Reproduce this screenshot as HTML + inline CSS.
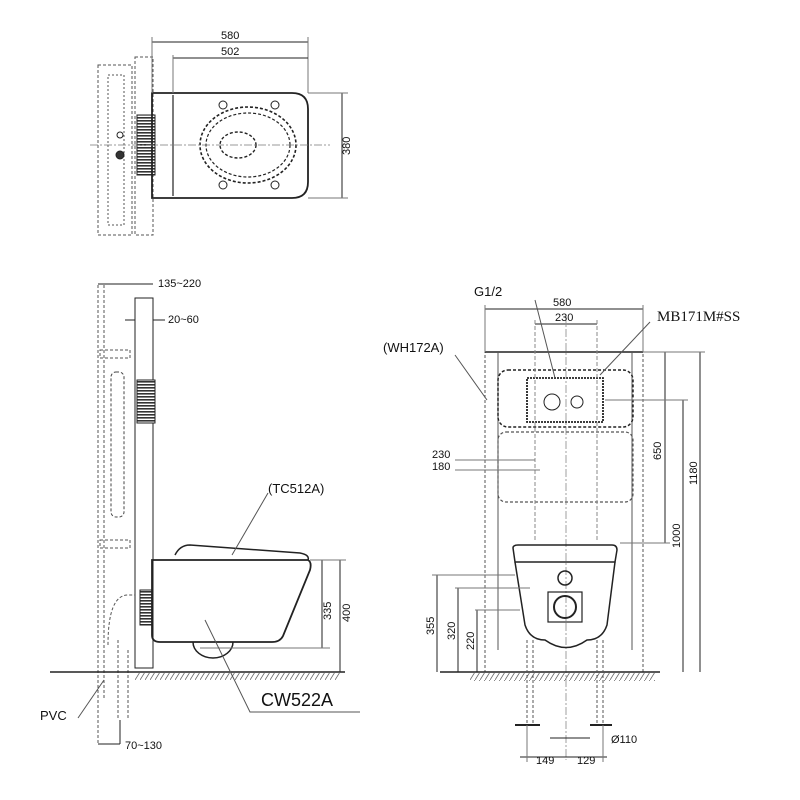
<!DOCTYPE html>
<html><head><meta charset="utf-8"><style>
html,body{margin:0;padding:0;background:#fff;}
svg{display:block;}
text{font-family:"Liberation Sans",sans-serif;fill:#111;}
</style></head><body>
<svg width="800" height="800" viewBox="0 0 800 800" xmlns="http://www.w3.org/2000/svg">
<defs>
<pattern id="h" width="5" height="8" patternUnits="userSpaceOnUse"><line x1="0" y1="8" x2="5" y2="0" stroke="#666" stroke-width="0.8"/></pattern>
<pattern id="g" width="4" height="3" patternUnits="userSpaceOnUse"><rect width="4" height="3" fill="#fff"/><rect width="4" height="1.6" fill="#333"/></pattern>
<pattern id="gv" width="3" height="4" patternUnits="userSpaceOnUse"><rect width="3" height="4" fill="#fff"/><rect width="1.6" height="4" fill="#333"/></pattern>
</defs>
<g fill="none" stroke="#222" stroke-width="1">
<!-- TOP VIEW -->
<rect x="98" y="65" width="34" height="170" stroke-dasharray="3,2" stroke="#555"/>
<rect x="108" y="75" width="16" height="150" stroke-dasharray="2,2" stroke="#555"/>
<rect x="135" y="57" width="18" height="178" stroke-dasharray="3,2" stroke="#555"/>
<rect x="137" y="115" width="18" height="60" fill="url(#g)" stroke="#222"/>
<path d="M152 93 H292 Q308 93 308 109 V182 Q308 198 292 198 H152 Z" stroke-width="1.8"/>
<line x1="173" y1="95" x2="173" y2="196" stroke-width="1.2"/>
<ellipse cx="248" cy="145" rx="48" ry="38" stroke-dasharray="3,2" stroke-width="1.6"/>
<ellipse cx="248" cy="145" rx="42" ry="32" stroke-dasharray="3,2" stroke-width="1.2"/>
<ellipse cx="238" cy="145" rx="18" ry="13" stroke-dasharray="3,2" stroke-width="1.4"/>
<circle cx="223" cy="105" r="4"/><circle cx="275" cy="105" r="4"/>
<circle cx="223" cy="185" r="4"/><circle cx="275" cy="185" r="4"/>
<circle cx="120" cy="135" r="3"/><circle cx="120" cy="155" r="4" fill="#333"/>
<line x1="90" y1="145" x2="330" y2="145" stroke-dasharray="8,2,2,2" stroke="#777" stroke-width="0.7"/>
<line x1="152" y1="42" x2="308" y2="42"/><line x1="152" y1="37" x2="152" y2="93" stroke="#777"/><line x1="308" y1="37" x2="308" y2="93" stroke="#777"/>
<line x1="173" y1="58" x2="308" y2="58"/><line x1="173" y1="55" x2="173" y2="93" stroke="#777"/>
<line x1="342" y1="93" x2="342" y2="198"/><line x1="308" y1="93" x2="348" y2="93" stroke="#777"/><line x1="308" y1="198" x2="348" y2="198" stroke="#777"/>

<!-- SIDE VIEW -->
<line x1="98" y1="285" x2="98" y2="745" stroke-dasharray="3,2" stroke="#555"/>
<line x1="104" y1="285" x2="104" y2="700" stroke-dasharray="3,2" stroke="#555"/>
<rect x="135" y="298" width="18" height="370"/>
<line x1="98" y1="284" x2="153" y2="284"/>
<line x1="125" y1="320" x2="135" y2="320"/><line x1="153" y1="320" x2="165" y2="320"/>
<rect x="111" y="372" width="13" height="145" rx="5" stroke-dasharray="3,2" stroke="#444"/>
<rect x="100" y="350" width="30" height="8" stroke-dasharray="3,2" stroke="#555"/>
<rect x="100" y="540" width="30" height="8" stroke-dasharray="3,2" stroke="#555"/>
<rect x="137" y="380" width="18" height="43" fill="url(#g)"/>
<path d="M108 645 Q108 595 128 595 H135" stroke-dasharray="3,2" stroke="#555"/>
<line x1="118" y1="640" x2="118" y2="720" stroke-dasharray="3,2" stroke="#555"/>
<line x1="128" y1="650" x2="128" y2="720" stroke-dasharray="3,2" stroke="#555"/>
<rect x="140" y="590" width="12" height="35" fill="url(#g)"/>
<path d="M152 560 H308 Q312 562 310 570 L283 636 Q280 642 272 642 H160 Q152 642 152 635 Z" stroke-width="1.8"/>
<path d="M193 642 A20 16 0 0 0 233 642" stroke-width="1.5"/>
<path d="M175 555 Q180 545 190 545 L300 553 Q310 555 308 560" stroke-width="1.5"/>
<line x1="50" y1="672" x2="345" y2="672" stroke-width="1.4"/>
<rect x="135" y="673" width="205" height="7" fill="url(#h)" stroke="none"/>
<line x1="322" y1="560" x2="322" y2="648"/><line x1="200" y1="648" x2="330" y2="648" stroke="#777"/>
<line x1="340" y1="560" x2="340" y2="672"/><line x1="310" y1="560" x2="346" y2="560" stroke="#777"/>
<line x1="232" y1="555" x2="268" y2="493" stroke="#555"/>
<polyline points="205,620 250,712 360,712" stroke="#555"/>
<line x1="78" y1="718" x2="104" y2="680" stroke="#555"/>
<line x1="98" y1="744" x2="120" y2="744"/><line x1="120" y1="744" x2="120" y2="720"/>

<!-- FRONT VIEW -->
<rect x="485" y="352" width="158" height="320" stroke-dasharray="3,2" stroke="#555"/>
<line x1="485" y1="352" x2="643" y2="352" stroke-width="1.5"/>
<line x1="498" y1="352" x2="498" y2="650" stroke="#555"/>
<line x1="632" y1="352" x2="632" y2="650" stroke="#555"/>
<rect x="498" y="370" width="135" height="57" rx="10" stroke-dasharray="3,2" stroke-width="1.5"/>
<rect x="498" y="432" width="135" height="70" rx="8" stroke-dasharray="3,2" stroke="#555" stroke-width="1.2"/>
<rect x="527" y="378" width="76" height="44" stroke-dasharray="2,1" stroke-width="1.8"/>
<circle cx="552" cy="402" r="8"/><circle cx="577" cy="402" r="6"/>
<line x1="566" y1="315" x2="566" y2="760" stroke-dasharray="8,2,2,2" stroke="#777" stroke-width="0.7"/>
<path d="M513 548 Q513 545 518 545 H612 Q617 545 617 550 L615 562 H515 Z" stroke-width="1.5"/>
<path d="M515 562 L525 625 Q530 640 545 640 Q566 655 587 640 Q602 640 607 625 L615 562" stroke-width="1.5"/>
<circle cx="565" cy="578" r="7" stroke-width="1.5"/>
<circle cx="565" cy="607" r="11" stroke-width="2"/>
<rect x="548" y="592" width="34" height="30" stroke-width="1.2"/>
<line x1="440" y1="672" x2="660" y2="672" stroke-width="1.4"/>
<rect x="470" y="673" width="185" height="8" fill="url(#h)" stroke="none"/>
<line x1="527" y1="640" x2="527" y2="725" stroke-dasharray="3,2" stroke="#555"/><line x1="533" y1="640" x2="533" y2="725" stroke-dasharray="3,2" stroke="#555"/>
<line x1="597" y1="640" x2="597" y2="725" stroke-dasharray="3,2" stroke="#555"/><line x1="603" y1="640" x2="603" y2="725" stroke-dasharray="3,2" stroke="#555"/>
<line x1="515" y1="725" x2="540" y2="725" stroke-width="2"/><line x1="590" y1="725" x2="612" y2="725" stroke-width="2"/>
<line x1="485" y1="309" x2="643" y2="309"/><line x1="485" y1="305" x2="485" y2="352" stroke="#777"/><line x1="643" y1="305" x2="643" y2="352" stroke="#777"/>
<line x1="535" y1="324" x2="597" y2="324"/><line x1="535" y1="320" x2="535" y2="540" stroke="#888" stroke-dasharray="4,2"/><line x1="597" y1="320" x2="597" y2="540" stroke="#888" stroke-dasharray="4,2"/>
<line x1="665" y1="352" x2="665" y2="543"/><line x1="620" y1="543" x2="670" y2="543" stroke="#777"/>
<line x1="683" y1="400" x2="683" y2="672"/><line x1="605" y1="400" x2="688" y2="400" stroke="#777"/>
<line x1="700" y1="352" x2="700" y2="672"/><line x1="643" y1="352" x2="705" y2="352" stroke="#777"/>
<line x1="437" y1="575" x2="437" y2="672"/><line x1="432" y1="575" x2="515" y2="575" stroke="#777"/>
<line x1="458" y1="588" x2="458" y2="672"/><line x1="455" y1="588" x2="530" y2="588" stroke="#777"/>
<line x1="477" y1="610" x2="477" y2="672"/><line x1="475" y1="610" x2="520" y2="610" stroke="#777"/>
<line x1="455" y1="460" x2="535" y2="460" stroke="#777"/><line x1="455" y1="470" x2="540" y2="470" stroke="#777"/>
<line x1="520" y1="757" x2="607" y2="757"/><line x1="550" y1="738" x2="590" y2="738"/>
<line x1="527" y1="725" x2="527" y2="762" stroke="#777"/><line x1="603" y1="725" x2="603" y2="762" stroke="#777"/>
<line x1="535" y1="300" x2="555" y2="378" stroke="#555"/>
<line x1="600" y1="375" x2="650" y2="322" stroke="#555"/>
<line x1="455" y1="355" x2="487" y2="400" stroke="#555"/>
</g>
<g font-size="11">
<text x="221" y="39">580</text><text x="221" y="55">502</text>
<text x="350" y="155" transform="rotate(-90 350 155)">380</text>
<text x="158" y="287">135~220</text><text x="168" y="323">20~60</text>
<text x="331" y="620" transform="rotate(-90 331 620)">335</text>
<text x="350" y="622" transform="rotate(-90 350 622)">400</text>
<text x="125" y="749">70~130</text>
<text x="553" y="306">580</text><text x="555" y="321">230</text>
<text x="432" y="458">230</text><text x="432" y="470">180</text>
<text x="661" y="460" transform="rotate(-90 661 460)">650</text>
<text x="680" y="548" transform="rotate(-90 680 548)">1000</text>
<text x="697" y="485" transform="rotate(-90 697 485)">1180</text>
<text x="434" y="635" transform="rotate(-90 434 635)">355</text>
<text x="455" y="640" transform="rotate(-90 455 640)">320</text>
<text x="474" y="650" transform="rotate(-90 474 650)">220</text>
<text x="611" y="743">Ø110</text><text x="536" y="764">149</text><text x="577" y="764">129</text>
</g>
<g font-size="13">
<text x="474" y="296">G1/2</text>
<text x="383" y="352">(WH172A)</text>
<text x="268" y="493">(TC512A)</text>
<text x="40" y="720">PVC</text>
</g>
<text x="261" y="706" font-size="18">CW522A</text>
<text x="657" y="321" font-size="15" style="font-family:'Liberation Serif',serif">MB171M#SS</text>
</svg>
</body></html>
